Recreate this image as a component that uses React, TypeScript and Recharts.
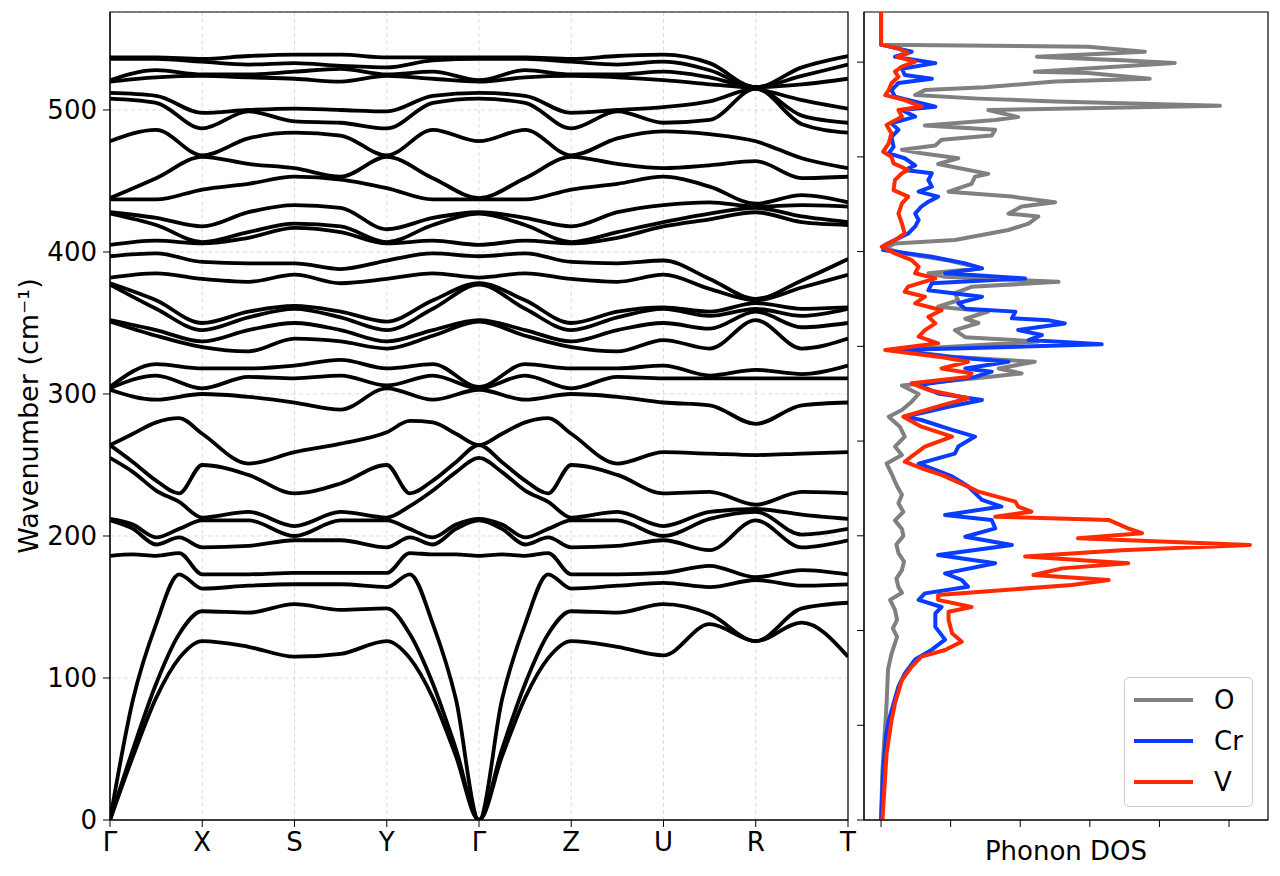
import { LineChart, Line, XAxis, YAxis, CartesianGrid, ReferenceArea } from 'recharts'

const FONT = '"DejaVu Sans", sans-serif'
const Y_MAX = 569
const THZ_TO_CM = 33.356

const pathLabels = ['Γ', 'X', 'S', 'Y', 'Γ', 'Z', 'U', 'R', 'T']
const pathTicks = [0, 1, 2, 3, 4, 5, 6, 7, 8]
const yTicks = [0, 100, 200, 300, 400, 500]
const dosTicksTHz = [0, 2, 4, 6, 8, 10, 12, 14, 16]
const dosXTicks = [0, 1, 2, 3, 4, 5]

// k grid for the optical bands (half-segment steps)
const kMain = [0, 0.5, 1, 1.5, 2, 2.5, 3, 3.5, 4, 4.5, 5, 5.5, 6, 6.5, 7, 7.5, 8]
// finer grid near Γ for the low-lying branches
const kLow = [0, 0.25, 0.5, 0.75, 1, 1.5, 2, 2.5, 3, 3.25, 3.5, 3.75, 4, 4.25, 4.5, 4.75, 5, 5.5, 6, 6.5, 7, 7.5, 8]

const lowBands = [
  [0, 45, 86, 114, 126, 122, 115, 117, 126, 114, 86, 45, 0, 45, 86, 114, 126, 122, 116, 138, 126, 139, 115],
  [0, 50, 96, 131, 147, 146, 152, 148, 149, 131, 96, 50, 0, 50, 96, 131, 147, 146, 152, 145, 126, 149, 153],
  [0, 85, 138, 173, 163, 165, 166, 166, 164, 173, 138, 85, 0, 85, 138, 173, 163, 165, 167, 164, 169, 165, 166],
  [186, 187, 186, 188, 173, 173, 174, 174, 174, 188, 187, 187, 186, 187, 186, 188, 173, 173, 174, 179, 171, 176, 173],
  [211, 205, 194, 199, 192, 193, 197, 197, 192, 199, 194, 205, 211, 205, 194, 199, 192, 193, 197, 190, 211, 192, 197],
  [212, 208, 199, 205, 211, 211, 200, 211, 211, 205, 199, 208, 212, 208, 199, 205, 211, 211, 200, 212, 217, 201, 205],
  [255, 245, 232, 224, 213, 217, 207, 217, 213, 221, 232, 245, 255, 245, 232, 224, 213, 217, 207, 217, 219, 215, 212],
  [264, 252, 239, 230, 250, 243, 230, 237, 250, 230, 239, 252, 264, 252, 239, 230, 250, 243, 230, 231, 222, 231, 230],
  [264, 272, 280, 283, 272, 251, 259, 265, 273, 281, 280, 272, 264, 272, 280, 283, 272, 251, 259, 258, 257, 258, 259],
]

const midBands = [
  [303, 296, 300, 298, 294, 289, 304, 296, 303, 296, 300, 298, 294, 292, 279, 292, 294],
  [304, 313, 304, 312, 311, 313, 306, 313, 304, 313, 304, 312, 311, 311, 311, 311, 311],
  [305, 321, 318, 318, 320, 324, 318, 321, 305, 321, 318, 318, 320, 313, 317, 314, 320],
  [351, 341, 333, 330, 339, 337, 332, 341, 351, 341, 333, 330, 338, 332, 352, 332, 339],
  [352, 345, 337, 345, 350, 345, 337, 345, 352, 345, 337, 345, 350, 346, 358, 347, 350],
  [377, 360, 345, 354, 360, 354, 345, 360, 377, 360, 345, 354, 360, 355, 360, 355, 360],
  [378, 366, 350, 358, 362, 358, 351, 366, 378, 366, 350, 358, 361, 358, 364, 360, 361],
  [382, 385, 381, 379, 384, 378, 381, 385, 382, 385, 381, 379, 384, 374, 366, 375, 384],
  [397, 399, 393, 392, 392, 388, 394, 399, 397, 399, 393, 392, 394, 381, 367, 380, 395],
]

const upperBands = [
  [405, 408, 406, 410, 417, 414, 406, 408, 405, 408, 406, 410, 418, 423, 428, 421, 419],
  [427, 419, 407, 414, 420, 418, 407, 419, 427, 419, 407, 414, 421, 427, 431, 425, 421],
  [428, 424, 418, 428, 433, 431, 416, 424, 428, 424, 418, 428, 433, 435, 432, 433, 432],
  [437, 437, 444, 448, 453, 451, 445, 437, 437, 437, 444, 448, 453, 446, 434, 440, 435],
  [438, 452, 467, 462, 459, 453, 467, 452, 438, 452, 467, 462, 459, 461, 464, 452, 453],
  [478, 486, 468, 480, 484, 482, 468, 486, 478, 486, 468, 480, 485, 483, 478, 466, 459],
  [508, 505, 487, 499, 492, 491, 487, 505, 508, 505, 487, 499, 491, 493, 515, 490, 484],
  [512, 510, 498, 500, 501, 500, 499, 510, 512, 510, 498, 500, 502, 506, 515, 496, 491],
  [520, 523, 524, 523, 522, 520, 524, 522, 520, 523, 524, 523, 521, 518, 515, 507, 501],
  [521, 528, 525, 525, 527, 529, 525, 527, 521, 528, 525, 525, 527, 523, 516, 518, 522],
  [536, 536, 534, 532, 533, 531, 530, 535, 536, 536, 534, 532, 534, 528, 516, 524, 532],
  [537, 537, 536, 538, 539, 539, 537, 537, 537, 537, 536, 538, 539, 533, 516, 530, 538],
]

// projected DOS, [wavenumber, DOS]
const oDos = [
  [569, 0], [546, 0], [544.6, 2.98], [541, 3.79], [537.5, 2.24], [535, 3.46], [533, 4.22], [527, 2.21],
  [526, 2.98], [522, 3.86], [520, 2.5], [516, 1.49], [514, 0.63], [510.5, 0.49], [508, 1.4], [506, 2.5],
  [503, 4.87], [500, 1.54], [495, 1.97], [493, 1.64], [489, 0.63], [486, 1.64], [482, 1.59], [479, 0.87],
  [475, 0.78], [472, 0.3], [469.5, 0.58], [466, 1.11], [462, 0.82], [460, 1.02], [455, 1.54], [453, 1.35],
  [448, 1.3], [442.5, 0.97], [439, 1.88], [435, 2.5], [432, 2.02], [427, 1.83], [425, 2.26], [420, 2.12],
  [415.5, 1.83], [408.5, 1.06], [406, 0.2], [402.5, 0.06], [399, 0.34], [394, 0.97], [388.5, 1.45], [385, 0.68],
  [382.5, 0.92], [379, 2.55], [375.5, 1.3], [371, 1.06], [366, 1.11], [361.5, 0.82], [358, 1.54], [353, 1.21],
  [350, 1.4], [345, 1.06], [340, 1.21], [337, 2.26], [331, 0.2], [326, 1.06], [322.7, 2.21], [318, 1.69],
  [314.5, 2.02], [312, 1.54], [306, 0.3], [300, 0.54], [294.6, 0.44], [288.7, 0.3], [284, 0.11], [277, 0.27],
  [270, 0.34], [263, 0.2], [257, 0.3], [251, 0.08], [244, 0.15], [235, 0.23], [229, 0.3], [223, 0.25],
  [217, 0.32], [211, 0.2], [205, 0.3], [200, 0.32], [194, 0.22], [188, 0.25], [182, 0.33], [176, 0.3],
  [170, 0.22], [164, 0.25], [160, 0.3], [155, 0.13], [148, 0.2], [141, 0.23], [135, 0.17], [129, 0.23],
  [117, 0.15], [106, 0.1], [82, 0.08], [59, 0.05], [35, 0.02], [0, 0],
]

const crDos = [
  [569, 0], [546, 0], [541, 0.44], [537.5, 0.2], [533, 0.78], [529, 0.3], [524.6, 0.34], [522, 0.73],
  [519, 0.25], [514, 0.15], [509.4, 0.2], [502.3, 0.78], [500, 0.3], [495.3, 0.49], [490.6, 0.15], [486, 0.25],
  [481, 0.15], [474, 0.18], [469.5, 0.11], [466, 0.34], [461, 0.49], [457.7, 0.34], [455.4, 0.73], [450.7, 0.68],
  [446, 0.73], [442.5, 0.54], [439, 0.82], [435.4, 0.68], [432, 0.58], [427, 0.49], [422.5, 0.54], [418, 0.49],
  [413, 0.39], [408.4, 0.2], [405, 0.06], [401.4, 0.03], [396.7, 0.73], [392, 1.21], [388.5, 1.45], [385, 0.92],
  [381.4, 2.07], [378, 0.73], [373, 0.68], [368.5, 1.45], [364, 1.11], [360, 1.21], [358, 1.93], [353.3, 1.88],
  [352, 2.4], [349.7, 2.64], [345, 1.97], [341.5, 2.31], [338, 2.12], [335, 3.17], [332, 1.06], [331, 0.15],
  [326.3, 0.97], [322.7, 1.83], [318, 1.21], [315.7, 1.59], [312, 1.35], [306.3, 0.54], [300.4, 0.82], [295.8, 1.45],
  [291, 0.97], [284, 0.34], [281.7, 0.58], [274.7, 1.02], [270, 1.35], [263, 1.11], [258, 1.06], [251, 0.54],
  [246.5, 0.78], [242, 1.02], [235, 1.25], [225.4, 1.45], [220.7, 1.73], [214.8, 0.92], [211.3, 1.59], [205.4, 1.64],
  [199.5, 1.21], [193.7, 1.88], [186.6, 0.82], [180.8, 1.64], [173.7, 0.92], [169, 1.16], [164.3, 1.25], [159.6, 0.63],
  [155, 0.54], [150, 0.87], [145.5, 0.78], [136, 0.78], [127, 0.92], [120, 0.73], [113, 0.49], [103, 0.34],
  [94, 0.25], [82, 0.18], [70, 0.11], [59, 0.07], [35, 0.03], [0, 0],
]

const vDos = [
  [569, 0], [546, 0], [543.4, 0.25], [540, 0.39], [537.5, 0.23], [534, 0.49], [530.5, 0.3], [527, 0.2],
  [523.4, 0.25], [518.8, 0.15], [514, 0.11], [510.5, 0.06], [507, 0.34], [502.3, 0.58], [500, 0.25], [495.3, 0.3],
  [489.4, 0.08], [483.5, 0.15], [476.5, 0.11], [470.6, 0.03], [467, 0.15], [462.4, 0.18], [457.7, 0.39], [455.4, 0.3],
  [450.7, 0.2], [443.6, 0.18], [439, 0.39], [434.3, 0.3], [427, 0.25], [420, 0.3], [413, 0.34], [408.4, 0.2],
  [403.7, 0.01], [399, 0.2], [394.3, 0.44], [389.6, 0.54], [385, 0.49], [381.4, 0.78], [375.6, 0.39], [372, 0.34],
  [368.5, 0.63], [363.8, 0.49], [359, 0.87], [354.4, 0.68], [349.7, 0.78], [345, 0.63], [340.4, 0.54], [335.7, 0.82],
  [331, 0.06], [326.3, 0.82], [322.7, 1.25], [318, 0.87], [314.5, 1.3], [312, 1.25], [307.5, 0.44], [302.8, 0.68],
  [297, 1.25], [292, 0.87], [284, 0.32], [277, 0.58], [270, 1.02], [263, 0.63], [256, 0.44], [252.3, 0.34],
  [247.7, 0.58], [243, 0.87], [234.8, 1.25], [231.2, 1.4], [224.2, 1.93], [220.7, 1.97], [217.1, 2.16], [213.6, 1.64],
  [211.3, 3.27], [205.4, 3.55], [202, 3.75], [198.4, 2.83], [193.7, 5.3], [190, 3.46], [185.5, 2.07], [180.8, 3.55],
  [177.2, 2.6], [172.5, 2.19], [169, 3.27], [165.5, 2.74], [162, 1.78], [158.5, 0.82], [155, 0.82], [150, 1.3],
  [146.7, 0.97], [141, 0.97], [131.5, 1.02], [125.6, 1.16], [119.7, 0.92], [115, 0.58], [108, 0.44], [98.6, 0.3],
  [82, 0.2], [70, 0.15], [47, 0.08], [23.5, 0.05], [0, 0.02],
]

const dosSeries = [
  { name: 'O', color: '#808080', points: oDos },
  { name: 'Cr', color: '#0a3cff', points: crDos },
  { name: 'V', color: '#ff2a00', points: vDos },
]

const tickStyle = { fill: '#000', fontSize: 26, fontFamily: FONT }

const toPoints = (grid: number[], row: number[]) => grid.map((k, i) => ({ k, v: row[i] }))

const allBands = [
  ...lowBands.map((row) => toPoints(kLow, row)),
  ...midBands.map((row) => toPoints(kMain, row)),
  ...upperBands.map((row) => toPoints(kMain, row)),
]

function DosLegend() {
  return (
    <div
      style={{
        position: 'absolute',
        left: 1124,
        top: 677,
        width: 129,
        height: 130,
        boxSizing: 'border-box',
        border: '1px solid #cccccc',
        borderRadius: 5,
        background: 'rgba(255,255,255,0.85)',
        padding: '1px 0 0 9px',
        fontFamily: FONT,
      }}
    >
      {dosSeries.map((s) => (
        <div key={s.name} style={{ display: 'flex', alignItems: 'center', height: 41 }}>
          <svg width={59} height={6}>
            <line x1={0} y1={3} x2={59} y2={3} stroke={s.color} strokeWidth={4} />
          </svg>
          <span style={{ marginLeft: 21, fontSize: 26, color: '#000' }}>{s.name}</span>
        </div>
      ))}
    </div>
  )
}

function BandPanel() {
  return (
    <LineChart width={860} height={876} margin={{ top: 12, right: 12, bottom: 10, left: 0 }}>
      <CartesianGrid stroke="#dcdcdc" strokeDasharray="4 3" />
      <XAxis
        type="number"
        dataKey="k"
        domain={[0, 8]}
        ticks={pathTicks}
        interval={0}
        tickFormatter={(t: number) => pathLabels[t]}
        height={46}
        tickSize={7}
        tickMargin={6}
        tick={tickStyle}
        stroke="#000"
        allowDataOverflow
      />
      <YAxis
        type="number"
        domain={[0, Y_MAX]}
        ticks={yTicks}
        interval={0}
        width={110}
        tickSize={7}
        tickMargin={6}
        tick={tickStyle}
        stroke="#000"
        allowDataOverflow
        label={{
          value: 'Wavenumber (cm⁻¹)',
          angle: -90,
          position: 'insideLeft',
          offset: 28,
          style: { textAnchor: 'middle', fontSize: 27, fontFamily: FONT, fill: '#000' },
        }}
      />
      {allBands.map((pts, i) => (
        <Line
          key={`band-${i}`}
          data={pts}
          dataKey="v"
          type="monotone"
          stroke="#000"
          strokeWidth={3.8}
          dot={false}
          activeDot={false}
          isAnimationActive={false}
        />
      ))}
      <ReferenceArea x1={0} x2={8} y1={0} y2={Y_MAX} fill="none" stroke="#000" strokeWidth={1.2} ifOverflow="visible" />
    </LineChart>
  )
}

function DosPanel() {
  return (
    <LineChart layout="vertical" width={440} height={876} margin={{ top: 12, right: 12, bottom: 10, left: 0 }}>
      <XAxis
        type="number"
        domain={[-0.245, 5.56]}
        ticks={dosXTicks}
        interval={0}
        tickFormatter={() => ''}
        height={46}
        tickSize={7}
        stroke="#000"
        allowDataOverflow
        label={{ value: 'Phonon DOS', position: 'insideBottom', offset: 6, style: { fontSize: 26, fontFamily: FONT, fill: '#000' } }}
      />
      <YAxis
        type="number"
        dataKey="f"
        domain={[0, Y_MAX]}
        reversed
        ticks={dosTicksTHz.map((t) => t * THZ_TO_CM)}
        interval={0}
        tickFormatter={() => ''}
        width={24}
        tickSize={7}
        stroke="#000"
        allowDataOverflow
      />
      {dosSeries.map((s) => (
        <Line
          key={s.name}
          name={s.name}
          data={s.points.map(([f, v]) => ({ f, v }))}
          dataKey="v"
          type="linear"
          stroke={s.color}
          strokeWidth={4}
          strokeLinejoin="round"
          dot={false}
          activeDot={false}
          isAnimationActive={false}
        />
      ))}
      <ReferenceArea x1={-0.245} x2={5.56} y1={0} y2={Y_MAX} fill="none" stroke="#000" strokeWidth={1.2} ifOverflow="visible" />
    </LineChart>
  )
}

export default function App() {
  return (
    <div style={{ position: 'absolute', left: 0, top: 0, width: 1280, height: 876, background: '#fff' }}>
      <div style={{ position: 'absolute', left: 0, top: 0 }}>
        <BandPanel />
      </div>
      <div style={{ position: 'absolute', left: 840, top: 0 }}>
        <DosPanel />
      </div>
      <DosLegend />
    </div>
  )
}
